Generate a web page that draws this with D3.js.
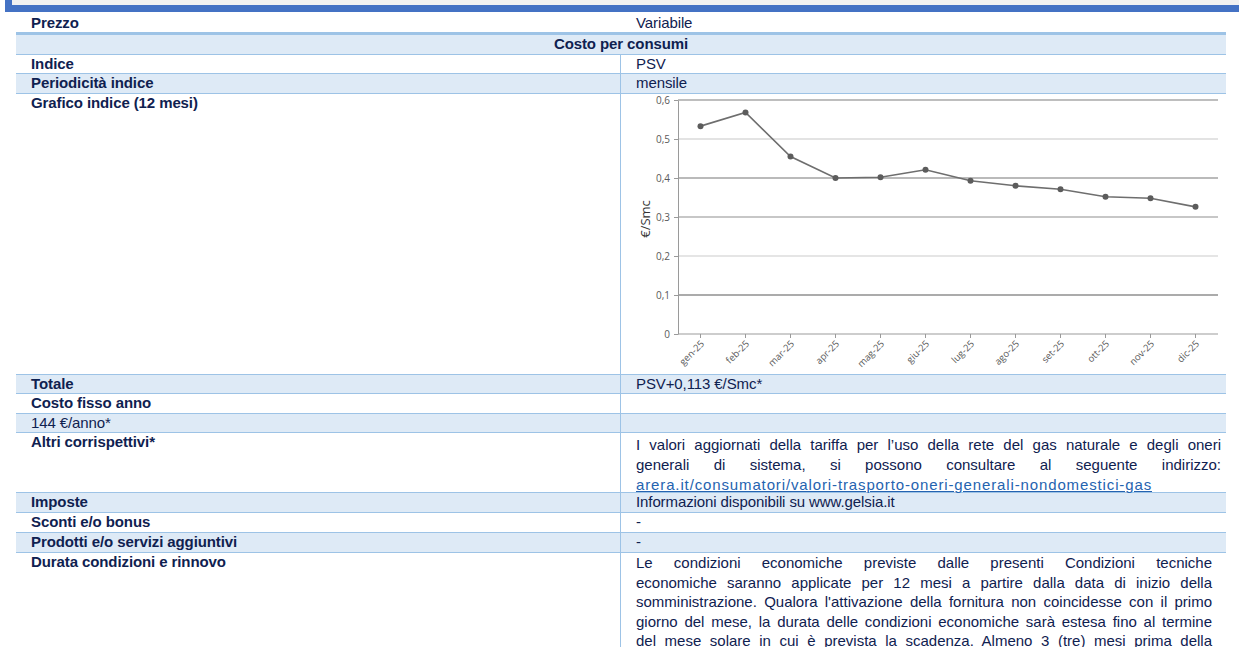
<!DOCTYPE html>
<html lang="it">
<meta charset="utf-8"/>
<head>
<style>
  body { margin: 0; background: #fff; width: 1239px; height: 647px; overflow: hidden; position: relative;
         font-family: "Liberation Sans", Arial, sans-serif; color: #0f2150; }
  .abs { position: absolute; }
  .row { position: absolute; left: 16px; width: 1210px; box-sizing: border-box; border-bottom: 1px solid #9dc3e6; }
  .lbl { position: absolute; left: 31px; font-size: 15px; font-weight: 700; white-space: nowrap; letter-spacing: -0.1px; }
  .val { position: absolute; left: 636px; font-size: 15px; white-space: nowrap; letter-spacing: -0.1px; }
  .jl  { position: absolute; left: 636px; font-size: 15px; text-align: justify; text-align-last: justify; white-space: nowrap; }
  .link { color: #2563b0; text-decoration: underline; }
  svg { position: absolute; left: 0; top: 0; }
  .axis text { font-family: "Open Sans", sans-serif; fill: #595959; }
</style>
</head>
<body>
<script src="https://cdnjs.cloudflare.com/ajax/libs/d3/7.8.5/d3.min.js"></script>
<script>
// chart data
let months = ["gen-25","feb-25","mar-25","apr-25","mag-25","giu-25","lug-25","ago-25","set-25","ott-25","nov-25","dic-25"]
let psv = [0.533, 0.568, 0.455, 0.400, 0.402, 0.421, 0.393, 0.380, 0.371, 0.352, 0.348, 0.326]
let yTicks = [0, 0.1, 0.2, 0.3, 0.4, 0.5, 0.6]
let yTickLabels = ["0","0,1","0,2","0,3","0,4","0,5","0,6"]
let yTitle = "€/Smc"

// table text
let rowLabels = ["Prezzo","Costo per consumi","Indice","Periodicità indice","Grafico indice (12 mesi)","Totale",
  "Costo fisso anno","144 €/anno*","Altri corrispettivi*","Imposte","Sconti e/o bonus","Prodotti e/o servizi aggiuntivi",
  "Durata condizioni e rinnovo"]
let rowValues = ["Variabile", "", "PSV", "mensile", "", "PSV+0,113 €/Smc*", "", "", "",
  "Informazioni disponibili su www.gelsia.it", "-", "-", ""]
let altriLines = ["I valori aggiornati della tariffa per l’uso della rete del gas naturale e degli oneri",
  "generali di sistema, si possono consultare al seguente indirizzo:"]
let linkText = "arera.it/consumatori/valori-trasporto-oneri-generali-nondomestici-gas"
let durataLines = ["Le condizioni economiche previste dalle presenti Condizioni tecniche",
  "economiche saranno applicate per 12 mesi a partire dalla data di inizio della",
  "somministrazione. Qualora l'attivazione della fornitura non coincidesse con il primo",
  "giorno del mese, la durata delle condizioni economiche sarà estesa fino al termine",
  "del mese solare in cui è prevista la scadenza. Almeno 3 (tre) mesi prima della"]

// layout
let rowTop = [12, 35, 55, 74, 94, 375, 394, 414, 433, 493, 513, 533, 553, 680]
let body = d3.select("body")

// header strip
body.append("div").attr("class","abs").style("left","12px").style("top","0px").style("width","1227px").style("height","5px").style("background","#f1f1f1")
body.append("div").attr("class","abs").style("left","5px").style("top","5px").style("width","1234px").style("height","7px").style("background","#4472c4")
body.append("div").attr("class","abs").style("left","5px").style("top","0px").style("width","7px").style("height","12px").style("background","#4472c4")

rowLabels.forEach((lab, i) => {
  let y0 = rowTop[i], h = rowTop[i+1] - y0
  let r = body.append("div").attr("class","row")
    .style("top", y0 + "px").style("height", h + "px")
    .style("background", i % 2 ? "#deeaf6" : "#fff")
  if (i == 0) r.style("border-bottom", "3px solid #9dc3e6")
  if (i == rowLabels.length - 1) r.style("border-bottom", "none")

  if (i == 1) {
    body.append("div").attr("class","lbl").style("left","16px").style("width","1210px").style("text-align","center")
      .style("top", (y0 - 1) + "px").style("line-height", "20px").text(lab)
    return
  }
  let multi = (i == 8 || i == 12 || i == 4)
  body.append("div").attr("class","lbl").style("top", (y0 - 1) + "px")
    .style("line-height", (multi ? 20 : h) + "px")
    .style("font-weight", i == 7 ? 400 : 700).text(lab)
  if (rowValues[i]) {
    body.append("div").attr("class","val").style("top", (y0 - 1) + "px").style("line-height", h + "px").text(rowValues[i])
  }
})

// column divider
body.append("div").attr("class","abs").style("left","620px").style("top","55px").style("width","1px").style("height","600px").style("background","#9dc3e6")

// justified lines: squeeze letter-spacing if a line is wider than its box
function justLine(t, top, lh, w) {
  let d = body.append("div").attr("class","jl").style("top", top + "px").style("width", w + "px").style("line-height", lh + "px")
  let s = d.append("span").style("display","inline-block").style("text-align-last","auto").text(t)
  let nat = s.node().getBoundingClientRect().width
  s.remove()
  if (nat > w - 4) d.style("letter-spacing", ((w - 4 - nat) / t.length) + "px")
  d.style("white-space","normal").text(t)
}
altriLines.forEach((t, k) => justLine(t, 435 + k*20, 20, 585))

let ln = body.append("div").attr("class","val").style("top", (435 + 2*20) + "px").style("line-height","20px")
  .append("span").attr("class","link").style("letter-spacing","0px").text(linkText)
let lw = ln.node().getBoundingClientRect().width
ln.style("letter-spacing", ((516 - lw) / linkText.length) + "px")

durataLines.forEach((t, k) => justLine(t, 553 + k*19.6, 19.6, 576))

// chart
let svg = body.append("svg").attr("width", 1239).attr("height", 647)
let plotL = 678, plotR = 1218, plotT = 100, plotB = 334

let x = d3.scaleBand().domain(months).range([plotL, plotR])
let y = d3.scaleLinear().domain([0, 0.6]).range([plotB, plotT])

let gridColors = ["#bdbdbd","#8f8f8f","#dcdcdc","#b5b5b5","#a3a3a3","#dadada","#a8a8a8"]

svg.append("g").selectAll("line").data(yTicks).join("line")
  .attr("x1", plotL).attr("x2", plotR)
  .attr("y1", d => y(d)).attr("y2", d => y(d))
  .attr("stroke", (d, i) => gridColors[i]).attr("stroke-width", 1.3)

let yAxis = svg.append("g").attr("class","axis").attr("transform","translate(" + plotL + ",0)")
  .call(d3.axisLeft(y).tickValues(yTicks).tickFormat((d, i) => yTickLabels[i]).tickSize(4).tickSizeOuter(0).tickPadding(4))
yAxis.select(".domain").attr("stroke","#9a9a9a")
yAxis.selectAll(".tick line").attr("stroke","#9a9a9a")
yAxis.selectAll("text").style("font-size","10px")

let xAxis = svg.append("g").attr("class","axis").attr("transform","translate(0," + plotB + ")")
  .call(d3.axisBottom(x).tickSize(4).tickSizeOuter(0))
xAxis.select(".domain").remove()
xAxis.selectAll(".tick line").attr("stroke","#9a9a9a")
xAxis.selectAll("text").style("font-size","9.5px")
  .attr("text-anchor","end").attr("y", 0).attr("dy","0.35em")
  .attr("transform","translate(2,8) rotate(-45)")

svg.append("text").attr("transform","translate(650,219) rotate(-90)")
  .attr("text-anchor","middle").style("font-family","'Open Sans', sans-serif").style("font-size","13px")
  .attr("fill","#333").text(yTitle)

let line = d3.line().x((d, i) => x(months[i]) + x.bandwidth()/2).y(d => y(d))
svg.append("path").datum(psv).attr("d", line).attr("fill","none").attr("stroke","#6e6e6e").attr("stroke-width",1.6)
svg.append("g").selectAll("circle").data(psv).join("circle")
  .attr("cx", (d, i) => x(months[i]) + x.bandwidth()/2).attr("cy", d => y(d)).attr("r", 3)
  .attr("fill","#5c5c5c")
</script>
</body>
</html>
